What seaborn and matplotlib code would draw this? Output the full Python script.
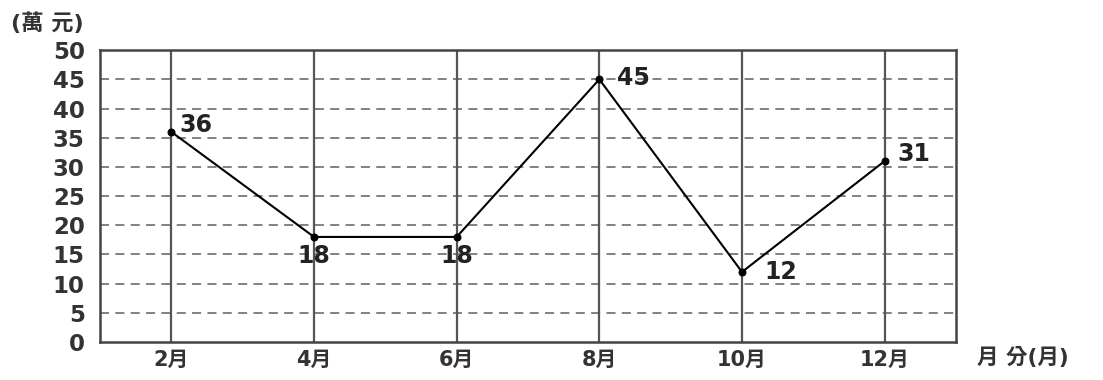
import matplotlib
matplotlib.use("Agg")
import matplotlib.pyplot as plt
import seaborn as sns
import pandas as pd

months = ["2月", "4月", "6月", "8月", "10月", "12月"]
sales = [36, 18, 18, 45, 12, 31]
y_ticks = [0, 5, 10, 15, 20, 25, 30, 35, 40, 45, 50]
y_unit = "(萬 元)"
x_unit = "月 分(月)"
# label offsets in points (style only)
label_offsets = [(6, 5), (0, -14), (0, -14), (13, 1), (16, 0), (9, 5)]
label_ha = ["left", "center", "center", "left", "left", "left"]

sns.set_theme(style="white")
plt.rcParams['font.family'] = ['DejaVu Sans', 'Noto Sans CJK TC']

df = pd.DataFrame({"month": months, "sales": sales})

fig = plt.figure(figsize=(11.03, 3.8), dpi=100)
ax = fig.add_axes([0.0907, 0.10, 0.776, 0.768])

sns.lineplot(data=df, x="month", y="sales", sort=False, ax=ax, color="black",
             linewidth=1.5, marker="o", markersize=5, markeredgecolor="black",
             zorder=5)

ax.set_xlim(-0.5, len(months) - 0.5)
ax.set_ylim(0, 50)
ax.set_yticks(y_ticks)
ax.set_yticklabels([str(t) for t in y_ticks])
ax.set_xticks(range(len(months)))
ax.set_xticklabels(months)

# gridlines
for t in y_ticks[1:-1]:
    ax.axhline(t, color="#777777", linestyle=(0, (5, 3.5)), linewidth=1.3, zorder=1)
for i in range(len(months)):
    ax.axvline(i, color="#555555", linewidth=1.6, zorder=1)

for s in ax.spines.values():
    s.set_visible(True)
    s.set_color("#444444")
    s.set_linewidth(1.8)

ax.tick_params(axis="both", length=0, labelcolor="#333333")
ax.tick_params(axis="y", pad=11, labelsize=16.5)
ax.tick_params(axis="x", pad=6, labelsize=15)
for lab in ax.get_yticklabels() + ax.get_xticklabels():
    lab.set_fontweight("bold")

ax.set_xlabel("")
ax.set_ylabel("")

for i, v in enumerate(sales):
    ax.annotate(str(v), xy=(i, v), xytext=label_offsets[i], textcoords="offset points",
                ha=label_ha[i], va="center", fontsize=17, color="#222222",
                fontweight="bold", zorder=6)

fig.text(0.010, 0.94, y_unit, fontsize=16, fontweight="bold", color="#333333",
         ha="left", va="center")
fig.text(0.886, 0.06, x_unit, fontsize=15.5, fontweight="bold", color="#333333",
         ha="left", va="center")

fig.savefig("out.png", dpi=100, facecolor="white")
